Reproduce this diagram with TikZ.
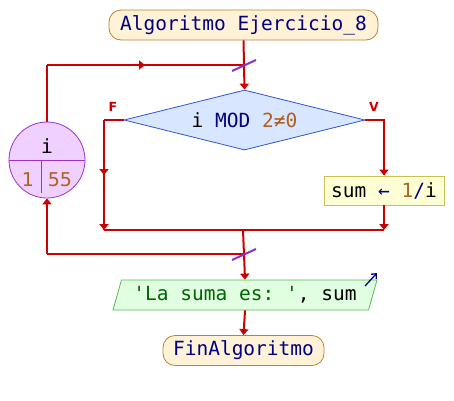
\documentclass[tikz,border=0pt]{standalone}
\usepackage{fontspec}
\setmonofont{DejaVu Sans Mono}
\newfontfamily\lblfont{DejaVu Sans}
\usetikzlibrary{shapes.geometric,arrows.meta,decorations.markings}

\definecolor{flowred}{RGB}{204,0,0}
\definecolor{kwnavy}{RGB}{0,0,128}
\definecolor{numbrown}{RGB}{176,96,32}
\definecolor{strgreen}{RGB}{0,100,0}
\definecolor{termfill}{RGB}{255,242,214}
\definecolor{termdraw}{RGB}{192,128,48}
\definecolor{condfill}{RGB}{217,230,255}
\definecolor{conddraw}{RGB}{51,85,204}
\definecolor{varfill}{RGB}{240,208,255}
\definecolor{vardraw}{RGB}{153,51,204}
\definecolor{asgfill}{RGB}{255,255,214}
\definecolor{asgdraw}{RGB}{200,192,80}
\definecolor{outfill}{RGB}{224,255,224}
\definecolor{outdraw}{RGB}{85,187,85}
\definecolor{slashpurple}{RGB}{136,51,204}

\tikzset{
  code/.style={font=\ttfamily\fontsize{19.5}{22}\selectfont},
  terminal/.style={code, rectangle, rounded corners=12pt, draw=termdraw, fill=termfill,
    line width=0.8pt, minimum height=30pt, inner sep=0pt, text=kwnavy},
  cond/.style={code, diamond, shape aspect=4, draw=conddraw, fill=condfill,
    line width=0.8pt, minimum width=241pt, minimum height=60pt, inner sep=1pt},
  counter/.style={circle, draw=vardraw, fill=varfill, line width=0.8pt,
    minimum size=76pt, inner sep=0pt},
  assign/.style={code, rectangle, draw=asgdraw, fill=asgfill, line width=0.8pt,
    minimum width=120pt, minimum height=29pt, inner sep=0pt},
  output/.style={code, trapezium, trapezium left angle=68, trapezium right angle=112,
    trapezium stretches body, draw=outdraw, fill=outfill, line width=0.8pt,
    minimum width=264pt, minimum height=30pt, inner sep=2pt},
  flow/.style={draw=flowred, line width=2pt},
  tip/.style={-{Triangle[length=6pt,width=9pt]}},
  midarrow/.style={postaction={decorate}, decoration={markings,
    mark=at position #1 with {\arrow[flowred]{Triangle[length=6pt,width=9pt]}}}},
  slash/.style={draw=slashpurple, line width=2pt},
  branch/.style={text=flowred, font=\lblfont\bfseries\fontsize{12.5}{13}\selectfont},
}

\begin{document}
\begin{tikzpicture}[x=1pt,y=-1pt]
\useasboundingbox (0,0) rectangle (454,400);

% blocks
\node[terminal, minimum width=269pt] (start) at (243.5,25) {Algoritmo Ejercicio\_8};
\node[cond] (cond) at (244.5,120)
  {\textcolor{black}{i} \textcolor{kwnavy}{MOD} \textcolor{numbrown}{2≠0}};
\node[assign] (sum) at (384,190.5)
  {\textcolor{black}{sum} \textcolor{kwnavy}{←} \textcolor{numbrown}{1}\textcolor{kwnavy}{/}\textcolor{black}{i}};
\node[output] (show) at (245,295)
  {\textcolor{strgreen}{'La suma es: '}\textcolor{black}{, sum}};
\node[terminal, minimum width=161pt] (finish) at (243.5,350.5) {FinAlgoritmo};

% loop counter
\node[counter] (var) at (47,160) {};
\draw[vardraw, line width=0.8pt] (var.west) -- (var.east);
\draw[vardraw, line width=0.8pt] (41,160) -- (41,193);
\node[code, text=black] (varname) at (47,146) {i};
\node[font=\lblfont\fontsize{19}{20}\selectfont, text=numbrown] (vfrom) at (28,180) {1};
\node[font=\lblfont\fontsize{19}{20}\selectfont, text=numbrown] (vto) at (60,180) {55};

% junction points
\coordinate (topj) at (243,65);
\coordinate (loopnw) at (47,65);
\coordinate (fcorner) at (104,120);
\coordinate (vcorner) at (384,120);
\coordinate (fjoin) at (104,230);
\coordinate (vjoin) at (384,230);
\coordinate (midj) at (243,230);
\coordinate (botj) at (243,254);
\coordinate (loopsw) at (47,254);

% connectors
\draw[flow, tip] (start.south) -- (cond.north);
\draw[flow] (var.north) -- (loopnw);
\draw[flow, midarrow=0.5] (loopnw) -- (topj);
\draw[flow] (cond.west) -- (fcorner);
\draw[flow, midarrow=0.5] (fcorner) -- (fjoin);
\draw[flow, tip] (fcorner) -- (fjoin);
\draw[flow, tip] (cond.east) -- (vcorner) -- (sum.north);
\draw[flow, tip] (sum.south) -- (vjoin);
\draw[flow] (fjoin) -- (vjoin);
\draw[flow, tip] (midj) -- (show.north);
\draw[flow] (botj) -- (loopsw);
\draw[flow, tip] (loopsw) -- (var.south);
\draw[flow, tip] (show.south) -- (finish.north);

% loop markers
\draw[slash] (topj) ++(-11,6) -- ++(24,-11);
\draw[slash] (botj) ++(-11,6) -- ++(24,-11);

% branch labels
\node[branch] (flbl) at (113,107) {F};
\node[branch] (vlbl) at (374,107) {V};

% output marker
\draw[kwnavy, line width=1.3pt, -{Straight Barb[length=4pt,width=7pt]}] (show.center) ++(120,-9) -- ++(12,-13);
\end{tikzpicture}
\end{document}
